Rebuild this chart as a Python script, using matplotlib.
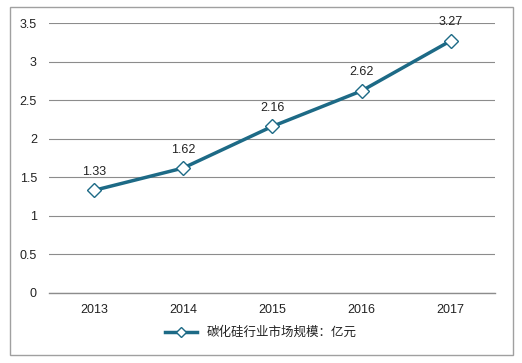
import matplotlib
matplotlib.use("Agg")
import matplotlib.pyplot as plt
from matplotlib.patches import Rectangle

years = ["2013", "2014", "2015", "2016", "2017"]
market_size = [1.33, 1.62, 2.16, 2.62, 3.27]
series_name = "碳化硅行业市场规模：亿元"

plt.rcParams['font.family'] = ['Liberation Sans', 'Noto Sans CJK SC', 'DejaVu Sans']

line_color = "#1d6a86"

fig = plt.figure(figsize=(5.22, 3.63), dpi=100)
ax = fig.add_axes([0.0946, 0.193, 0.8544, 0.7436])

x = range(len(years))
ax.plot(x, market_size, color=line_color, linewidth=2.5, marker='D', markersize=7,
        markerfacecolor='white', markeredgecolor=line_color, markeredgewidth=1.0,
        label=series_name, zorder=3)

for xi, v in zip(x, market_size):
    ax.annotate(f"{v:.2f}", (xi, v), xytext=(0, 9), textcoords='offset points',
                ha='center', va='bottom', fontsize=9, color='#222222')

ax.set_xlim(-0.5, len(years) - 0.5)
ax.set_ylim(0, 3.5)
ax.set_yticks([0, 0.5, 1, 1.5, 2, 2.5, 3, 3.5])
ax.set_yticklabels(["0", "0.5", "1", "1.5", "2", "2.5", "3", "3.5"])
ax.set_xticks(list(x))
ax.set_xticklabels(years)
ax.grid(axis='y', color='#8c8c8c', linewidth=0.8)
ax.set_axisbelow(True)
for s in ['left', 'right', 'top']:
    ax.spines[s].set_visible(False)
ax.spines['bottom'].set_color('#8c8c8c')
ax.spines['bottom'].set_linewidth(1.0)
ax.tick_params(axis='both', length=0, labelsize=9, colors='#222222', pad=8)
ax.tick_params(axis='y', pad=9)

fig.legend(loc='center', bbox_to_anchor=(0.5, 1 - 333 / 363), frameon=False,
           fontsize=9, handlelength=2.5, markerscale=0.75, labelcolor='#222222')

fig.patches.append(Rectangle((10 / 522, 1 - 355 / 363), 503 / 522, 348 / 363,
                             transform=fig.transFigure, fill=False,
                             edgecolor='#a0a0a0', linewidth=1.0))

fig.savefig("out.png", dpi=100)
